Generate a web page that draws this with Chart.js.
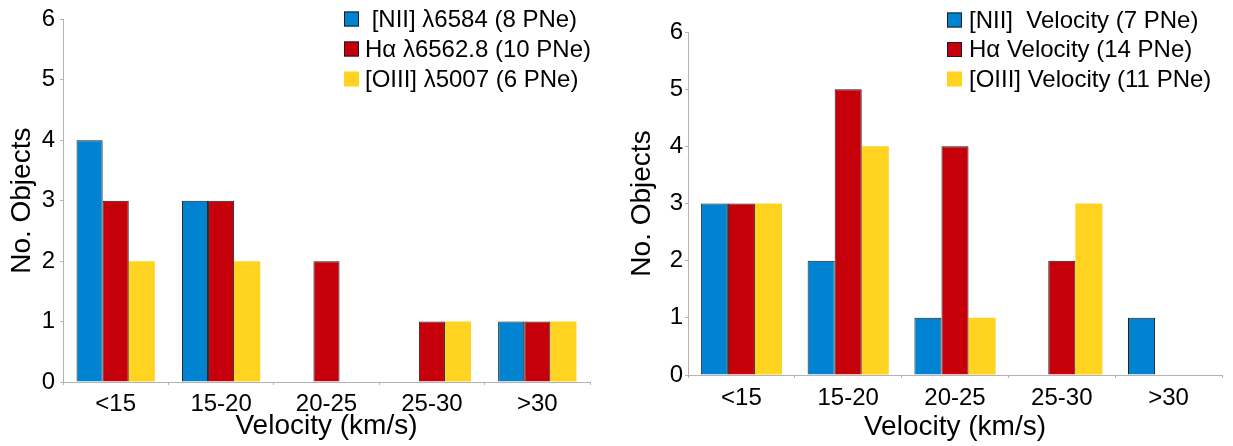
<!DOCTYPE html>
<html>
<head>
<meta charset="utf-8">
<script src="https://cdn.jsdelivr.net/npm/chart.js@4.4.0/dist/chart.umd.min.js"></script>
<style>
  html, body { margin: 0; padding: 0; background: #fff; }
  #wrap { position: relative; width: 1233px; height: 446px; overflow: hidden; }
  .box { position: absolute; top: 0; height: 446px; }
  #b1 { left: 0; width: 600px; }
  #b2 { left: 620px; width: 613px; }
</style>
</head>
<body>
<div id="wrap">
  <div class="box" id="b1"><canvas id="c1" width="600" height="446"></canvas></div>
  <div class="box" id="b2"><canvas id="c2" width="613" height="446"></canvas></div>
</div>
<script>
// ---- data ----
const categories = ['<15', '15-20', '20-25', '25-30', '>30'];
const yTicks = [0, 1, 2, 3, 4, 5, 6];

const leftLabels = [' [NII] λ6584 (8 PNe)', 'Hα λ6562.8 (10 PNe)', '[OIII] λ5007 (6 PNe)'];
const leftNII  = [4, 3, 0, 0, 1];
const leftHa   = [3, 3, 2, 1, 1];
const leftOIII = [2, 2, 0, 1, 1];

const rightLabels = ['[NII]  Velocity (7 PNe)', 'Hα Velocity (14 PNe)', '[OIII] Velocity (11 PNe)'];
const rightNII  = [3, 2, 1, 0, 1];
const rightHa   = [3, 5, 4, 2, 0];
const rightOIII = [3, 4, 1, 3, 0];

const xTitle = 'Velocity (km/s)';
const yTitle = 'No. Objects';

// ---- styles ----
const FONT = "'Liberation Sans', Arial, sans-serif";
const BLUE = '#0084d1', RED = '#c5000b', YELLOW = '#ffd320';
const EDGE = '#1c1c1c', AXIS = '#b3b3b3';

const insideLegend = {
  id: 'insideLegend',
  afterDraw(chart, args, opts) {
    const ctx = chart.ctx;
    ctx.save();
    ctx.font = opts.fontSize + 'px ' + FONT;
    ctx.textBaseline = 'middle';
    ctx.textAlign = 'left';
    chart.data.datasets.forEach((ds, i) => {
      const cy = opts.y + i * opts.rowH;
      const s = opts.box;
      ctx.fillStyle = ds.backgroundColor;
      ctx.fillRect(opts.x, cy - s / 2, s, s);
      if (ds.borderWidth > 0) {
        ctx.strokeStyle = ds.borderColor;
        ctx.lineWidth = 1;
        ctx.strokeRect(opts.x + 0.5, cy - s / 2 + 0.5, s - 1, s - 1);
      }
      ctx.fillStyle = '#000';
      ctx.fillText(ds.label, opts.x + s + opts.gap, cy + 1);
    });
    ctx.restore();
  }
};

function makeDatasets(labels, a, b, c) {
  return [
    { label: labels[0], data: a, backgroundColor: BLUE, borderColor: EDGE, borderWidth: 1 },
    { label: labels[1], data: b, backgroundColor: RED, borderColor: EDGE, borderWidth: 1 },
    { label: labels[2], data: c, backgroundColor: YELLOW, borderColor: YELLOW, borderWidth: 0 }
  ];
}

function makeChart(id, labels, a, b, c, geo) {
  return new Chart(document.getElementById(id), {
    type: 'bar',
    data: { labels: categories, datasets: makeDatasets(labels, a, b, c) },
    plugins: [insideLegend],
    options: {
      responsive: false,
      animation: false,
      layout: { padding: { top: geo.top, right: geo.right, left: 0, bottom: 0 } },
      datasets: { bar: { categoryPercentage: geo.cat, barPercentage: 1.0 } },
      plugins: {
        legend: { display: false },
        tooltip: { enabled: false },
        insideLegend: geo.legend
      },
      scales: {
        x: {
          grid: { display: true, drawOnChartArea: false, drawTicks: true, tickLength: 3, color: AXIS, offset: true },
          border: { display: true, color: AXIS, width: 1 },
          ticks: { color: '#000', font: { family: FONT, size: geo.xTickSize }, padding: geo.xTickPad, maxRotation: 0 },
          title: { display: true, text: xTitle, color: '#000', font: { family: FONT, size: geo.titleSize }, padding: { top: 0, bottom: geo.xTitlePad } },
          afterFit: (s) => { s.height = geo.xH; }
        },
        y: {
          min: 0, max: 6,
          afterBuildTicks: (s) => { s.ticks = yTicks.map(v => ({ value: v })); },
          grid: { display: true, drawOnChartArea: false, drawTicks: true, tickLength: 3, color: AXIS },
          border: { display: true, color: AXIS, width: 1 },
          ticks: { color: '#000', font: { family: FONT, size: geo.yTickSize }, padding: geo.yTickPad },
          title: { display: true, text: yTitle, color: '#000', font: { family: FONT, size: geo.titleSize }, padding: { top: geo.yTitlePad, bottom: 0 } },
          afterFit: (s) => { s.width = geo.yW; }
        }
      }
    }
  });
}

makeChart('c1', leftLabels, leftNII, leftHa, leftOIII, {
  top: 16, right: 10, cat: 0.743, yW: 63, xH: 64,
  xTickSize: 24, yTickSize: 24, titleSize: 28, xTickPad: 5, yTickPad: 5, xTitlePad: 3, yTitlePad: 5,
  legend: { x: 344, y: 19, rowH: 30, box: 15, gap: 6, fontSize: 24 }
});

makeChart('c2', rightLabels, rightNII, rightHa, rightOIII, {
  top: 32, right: 11, cat: 0.76, yW: 68, xH: 71,
  xTickSize: 24, yTickSize: 24, titleSize: 28, xTickPad: 6, yTickPad: 2, xTitlePad: 2, yTitlePad: 5,
  legend: { x: 327, y: 20, rowH: 29.5, box: 15, gap: 7, fontSize: 24 }
});
</script>
</body>
</html>
